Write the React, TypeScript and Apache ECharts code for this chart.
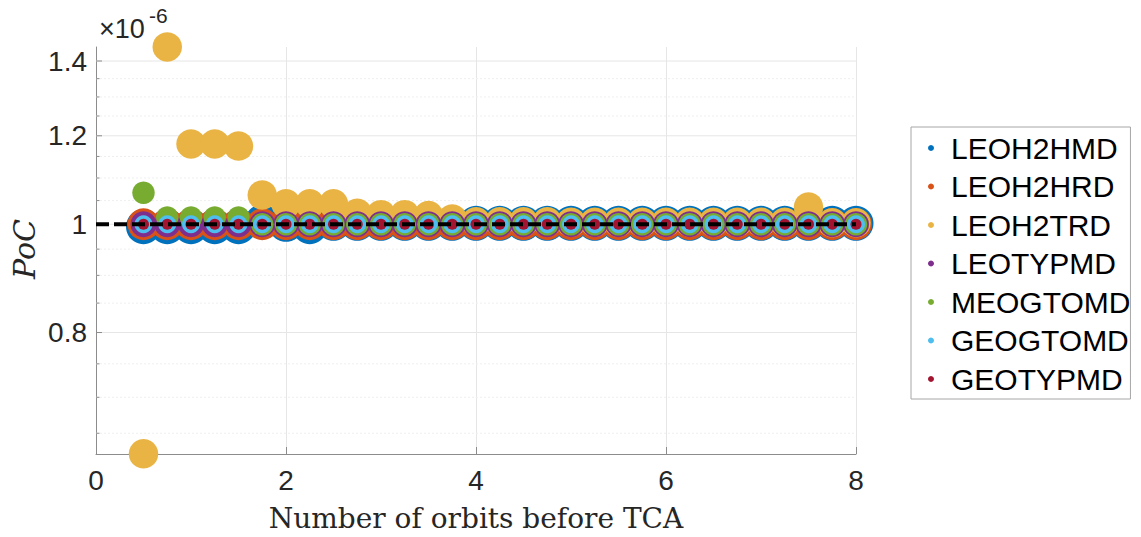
import React, { useEffect, useRef } from 'react';
import * as echarts from 'echarts';

// ---- data (PoC values in units of 1e-6) ----
const orbits = [0.5, 0.75, 1, 1.25, 1.5, 1.75, 2, 2.25, 2.5, 2.75, 3, 3.25, 3.5, 3.75, 4, 4.25, 4.5, 4.75, 5, 5.25, 5.5, 5.75, 6, 6.25, 6.5, 6.75, 7, 7.25, 7.5, 7.75, 8];

const seriesNames = ['LEOH2HMD', 'LEOH2HRD', 'LEOH2TRD', 'LEOTYPMD', 'MEOGTOMD', 'GEOGTOMD', 'GEOTYPMD'];
const seriesColors = ['#0072BD', '#D95319', '#E9B444', '#7E2F8E', '#77AC30', '#4DBEEE', '#A2142F'];
const markerSizes = [35, 32, 29.5, 26, 22.5, 18, 11];

const leoh2hmd = [0.995, 0.995, 0.995, 0.995, 0.995, 1.005, 1.0, 0.995, 1.002, 1.002, 1.002, 1.002, 1.002, 1.002, 1.002, 1.002, 1.002, 1.002, 1.002, 1.002, 1.002, 1.002, 1.002, 1.002, 1.002, 1.002, 1.002, 1.002, 1.002, 1.002, 1.002];
const leoh2hrd = [1.0, 1.0, 1.0, 1.0, 1.0, 1.0, 1.0, 1.0, 1.0, 1.0, 1.0, 1.0, 1.0, 1.0, 1.0, 1.0, 1.0, 1.0, 1.0, 1.0, 1.0, 1.0, 1.0, 1.0, 1.0, 1.0, 1.0, 1.0, 1.0, 1.0, 1.0];
const leoh2trd = [0.623, 1.441, 1.18, 1.18, 1.175, 1.062, 1.043, 1.043, 1.043, 1.023, 1.02, 1.02, 1.018, 1.011, 1.005, 1.005, 1.005, 1.005, 1.004, 1.004, 1.004, 1.004, 1.004, 1.004, 1.004, 1.004, 1.004, 1.004, 1.036, 1.003, 1.003];
const leotypmd = [1.0, 1.0, 1.0, 1.0, 1.0, 1.0, 1.0, 1.0, 1.0, 1.0, 1.0, 1.0, 1.0, 1.0, 1.0, 1.0, 1.0, 1.0, 1.0, 1.0, 1.0, 1.0, 1.0, 1.0, 1.0, 1.0, 1.0, 1.0, 1.0, 1.0, 1.0];
const meogtomd = [1.067, 1.014, 1.014, 1.014, 1.014, 1.0, 1.0, 1.0, 1.0, 1.0, 1.0, 1.0, 1.0, 1.0, 1.0, 1.0, 1.0, 1.0, 1.0, 1.0, 1.0, 1.0, 1.0, 1.0, 1.0, 1.0, 1.0, 1.0, 1.0, 1.0, 1.0];
const geogtomd = [1.0, 1.0, 1.0, 1.0, 1.0, 1.0, 1.0, 1.0, 1.0, 1.0, 1.0, 1.0, 1.0, 1.0, 1.0, 1.0, 1.0, 1.0, 1.0, 1.0, 1.0, 1.0, 1.0, 1.0, 1.0, 1.0, 1.0, 1.0, 1.0, 1.0, 1.0];
const geotypmd = [1.0, 1.0, 1.0, 1.0, 1.0, 1.0, 1.0, 1.0, 1.0, 1.0, 1.0, 1.0, 1.0, 1.0, 1.0, 1.0, 1.0, 1.0, 1.0, 1.0, 1.0, 1.0, 1.0, 1.0, 1.0, 1.0, 1.0, 1.0, 1.0, 1.0, 1.0];
const allValues = [leoh2hmd, leoh2hrd, leoh2trd, leotypmd, meogtomd, geogtomd, geotypmd];

const referenceLevel = 1;
const xLimits = [0, 8];
const yLimits = [0.6228, 1.441];
const yMajorTicks = [0.8, 1, 1.2, 1.4];
const yMinorTicks = [0.65, 0.7, 0.75, 0.85, 0.9, 0.95, 1.05, 1.1, 1.15, 1.25, 1.3, 1.35];

const AXIS_GRAY = '#8c8c8c';
const TEXT_DARK = '#262626';

export default function App() {
  const ref = useRef<HTMLDivElement>(null);

  useEffect(() => {
    if (!ref.current) return;
    const chart = echarts.init(ref.current, undefined, { renderer: 'svg' });

    const scatterSeries = seriesNames.map((name, i) => ({
      name,
      type: 'scatter',
      data: orbits.map((x, j) => [x, allValues[i][j]]),
      symbol: 'circle',
      symbolSize: markerSizes[i],
      itemStyle: { color: seriesColors[i], opacity: 1 },
      z: 3 + i,
      silent: true,
    }));

    const gridData = [
      ...yMajorTicks.map((v) => [0, v, 1]),
      ...yMinorTicks.map((v) => [0, v, 0]),
    ];

    const option: any = {
      animation: false,
      backgroundColor: '#ffffff',
      grid: { left: 96, right: 285, top: 47, bottom: 79, containLabel: false },
      xAxis: {
        type: 'value',
        min: xLimits[0],
        max: xLimits[1],
        interval: 2,
        name: 'Number of orbits before TCA',
        nameLocation: 'middle',
        nameGap: 50,
        nameTextStyle: { fontFamily: 'DejaVu Serif', fontSize: 28, color: TEXT_DARK },
        axisLine: { show: true, lineStyle: { color: AXIS_GRAY, width: 1 } },
        axisTick: { show: true, inside: true, length: 7, lineStyle: { color: AXIS_GRAY } },
        axisLabel: { fontFamily: 'Liberation Sans', fontSize: 28, color: TEXT_DARK, margin: 12 },
        splitLine: { show: true, lineStyle: { color: '#e6e6e6', width: 1 } },
      },
      yAxis: {
        type: 'log',
        min: yLimits[0],
        max: yLimits[1],
        axisLine: { show: true, lineStyle: { color: AXIS_GRAY, width: 1 } },
        axisTick: { show: false },
        axisLabel: { show: false },
        splitLine: { show: false },
      },
      legend: {
        data: seriesNames,
        orient: 'vertical',
        left: 911,
        top: 127,
        icon: 'circle',
        itemWidth: 30,
        itemHeight: 6,
        itemGap: 8.5,
        padding: [6, 0, 5, 17],
        borderColor: '#a6a6a6',
        borderWidth: 1,
        backgroundColor: '#ffffff',
        textStyle: { fontFamily: 'Liberation Sans', fontSize: 30, color: '#000000' },
        selectedMode: false,
      },
      graphic: [
        {
          type: 'text',
          left: 99,
          top: 15,
          style: { text: '×10', fontFamily: 'Liberation Sans', fontSize: 27, fill: TEXT_DARK },
        },
        {
          type: 'text',
          left: 149,
          top: 5,
          style: { text: '-6', fontFamily: 'Liberation Sans', fontSize: 21, fill: TEXT_DARK },
        },
        {
          type: 'text',
          x: 24,
          y: 249,
          rotation: Math.PI / 2,
          style: {
            text: 'PoC',
            fontFamily: 'DejaVu Serif',
            fontStyle: 'italic',
            fontSize: 30,
            fill: TEXT_DARK,
            align: 'center',
            verticalAlign: 'middle',
          },
        },
      ],
      series: [
        {
          type: 'custom',
          name: 'ygrid',
          silent: true,
          clip: false,
          z: 1,
          data: gridData,
          encode: { x: 0, y: 1 },
          renderItem: (params: any, api: any) => {
            const v = api.value(1);
            const major = api.value(2) === 1;
            const a = api.coord([xLimits[0], v]);
            const b = api.coord([xLimits[1], v]);
            const children: any[] = [
              {
                type: 'line',
                shape: { x1: a[0], y1: a[1], x2: b[0], y2: b[1] },
                style: major
                  ? { stroke: '#e6e6e6', lineWidth: 1 }
                  : { stroke: '#efefef', lineWidth: 1, lineDash: [2, 2] },
              },
              {
                type: 'line',
                shape: { x1: a[0], y1: a[1], x2: a[0] + (major ? 6 : 3.5), y2: a[1] },
                style: { stroke: AXIS_GRAY, lineWidth: 1 },
              },
            ];
            if (major) {
              children.push({
                type: 'text',
                x: a[0] - 9,
                y: a[1],
                style: {
                  text: String(v),
                  fontFamily: 'Liberation Sans',
                  fontSize: 28,
                  fill: TEXT_DARK,
                  align: 'right',
                  verticalAlign: 'middle',
                },
              });
            }
            return { type: 'group', children };
          },
        },
        ...scatterSeries,
        {
          type: 'line',
          name: 'reference',
          data: [[xLimits[0], referenceLevel], [xLimits[1], referenceLevel]],
          symbol: 'none',
          silent: true,
          z: 20,
          lineStyle: { color: '#000000', width: 4, type: [13, 5] },
        },
      ],
    };

    chart.setOption(option);
    return () => chart.dispose();
  }, []);

  return (
    <div
      ref={ref}
      style={{ position: 'fixed', left: 0, top: 0, width: 1141, height: 537, background: '#fff' }}
    />
  );
}
